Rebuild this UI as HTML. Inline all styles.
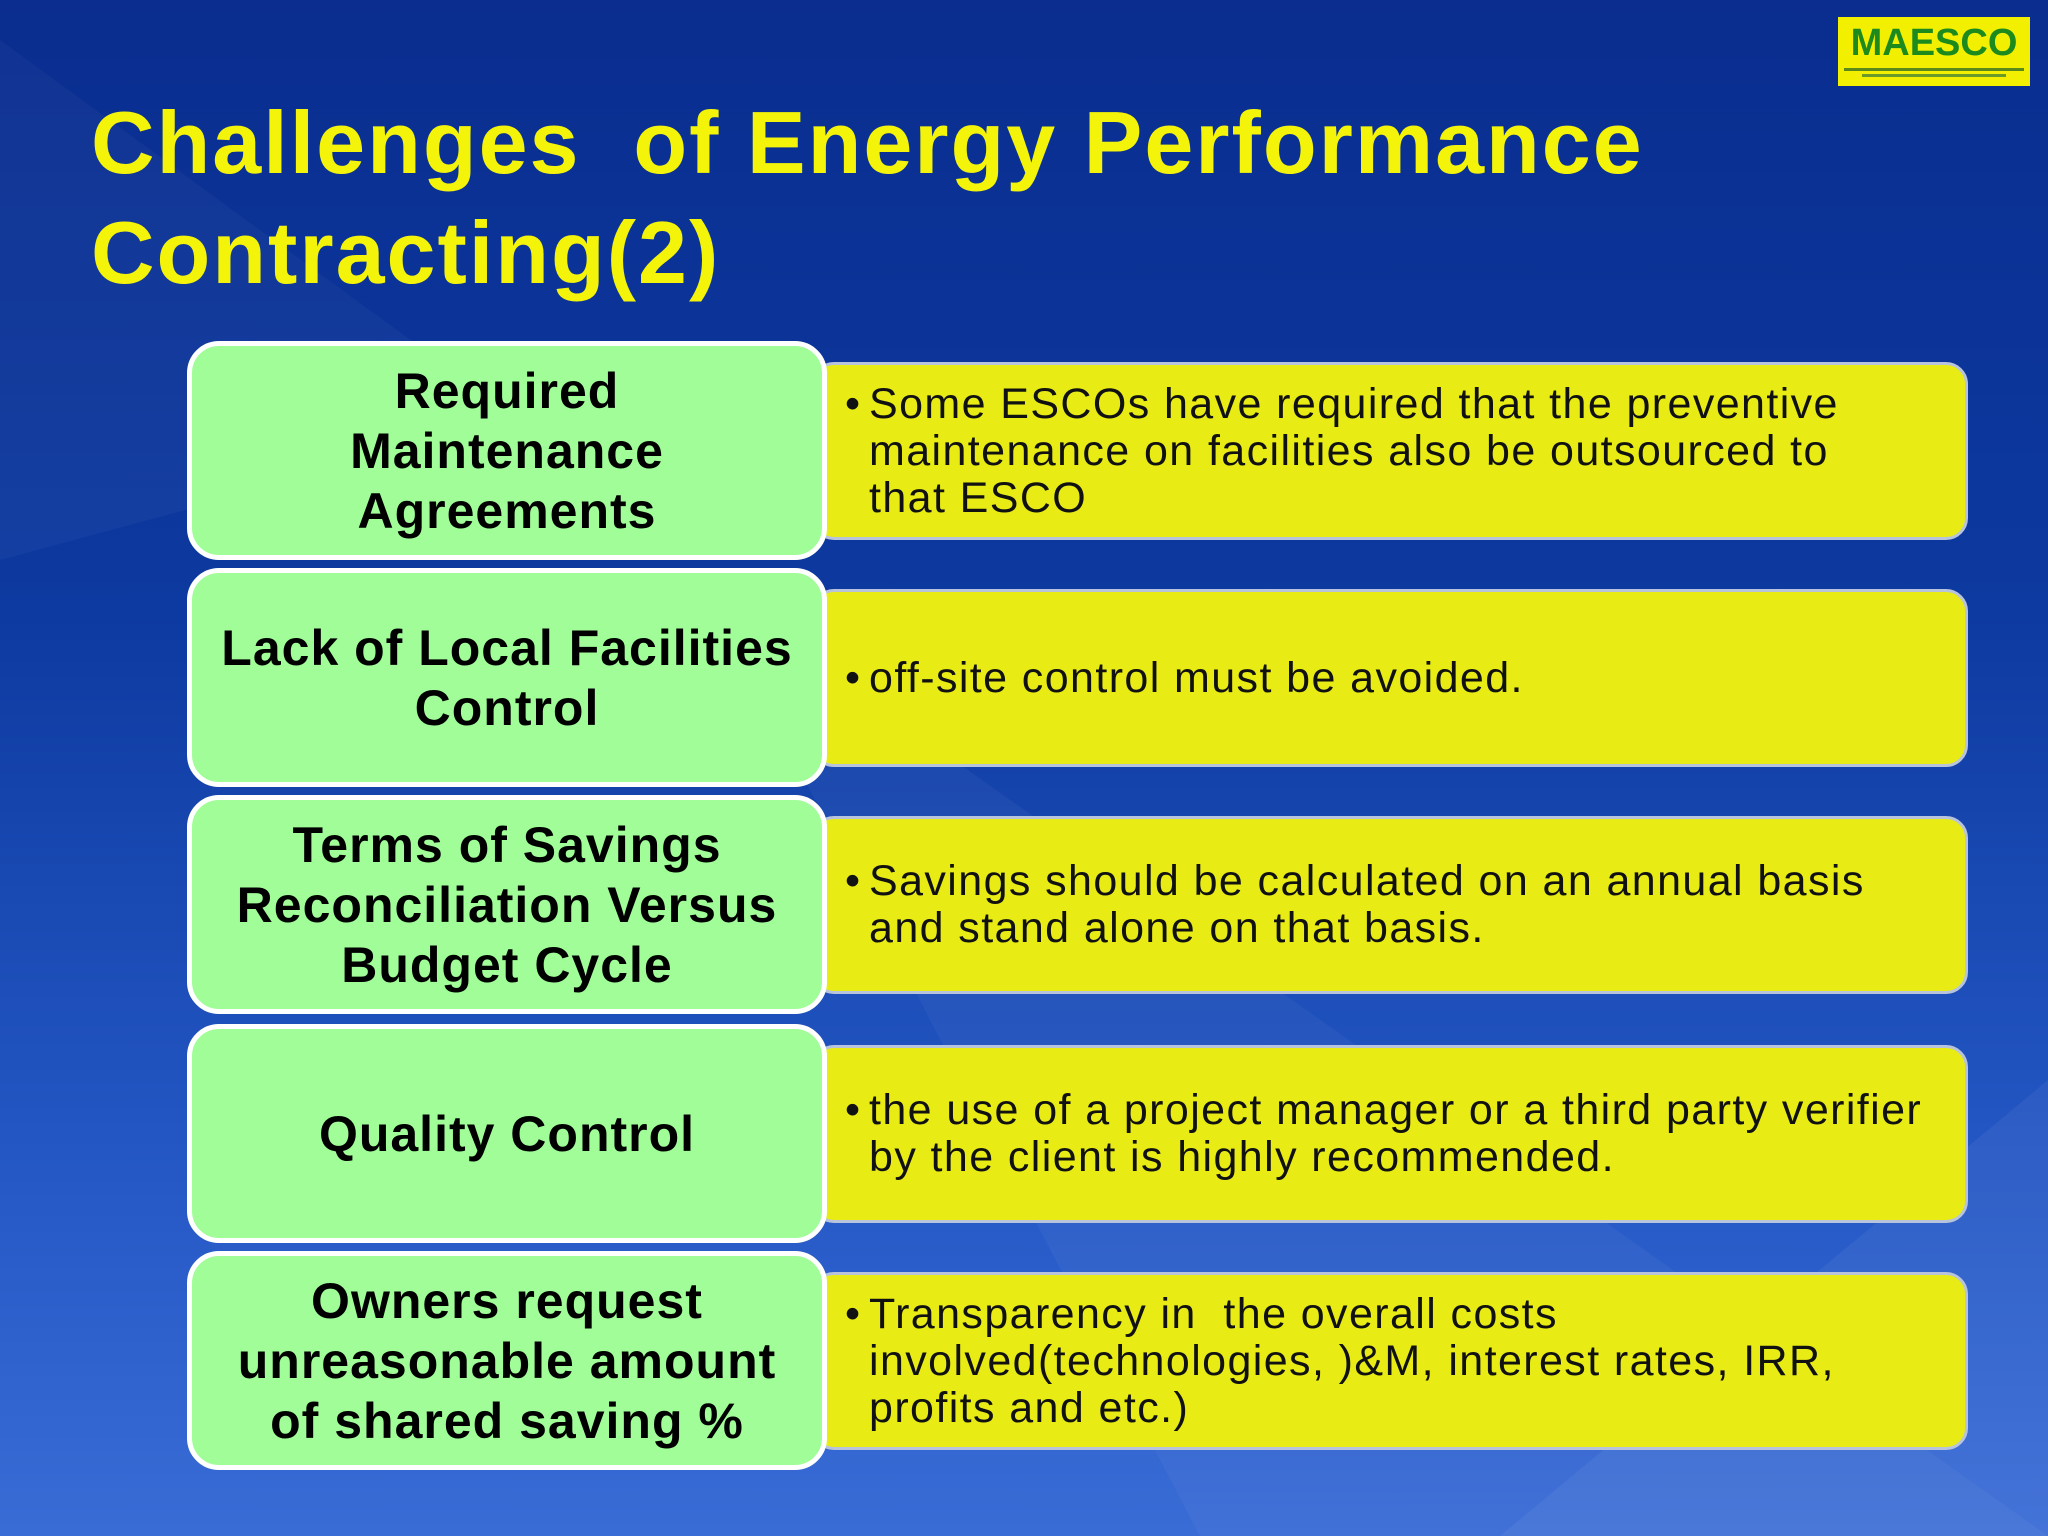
<!DOCTYPE html>
<html><head><meta charset="utf-8"><style>
body{margin:0;width:2048px;height:1536px;overflow:hidden;font-family:"Liberation Sans",sans-serif;}
#slide{position:relative;width:2048px;height:1536px;background:linear-gradient(180deg,#0a2d8f 0%,#0d3aa0 40%,#2457c4 75%,#3a6cd6 100%);overflow:hidden}
.title{position:absolute;left:91px;top:88px;color:#f4f40a;font-weight:bold;font-size:88px;line-height:110px;letter-spacing:2px}
.green{position:absolute;left:187px;width:630px;height:209px;background:#a0fd98;border:5px solid #fff;border-radius:32px;box-sizing:content-box;display:flex;align-items:center;justify-content:center;text-align:center;font-weight:bold;font-size:50px;line-height:60px;color:#000;z-index:2;letter-spacing:1px}
.yellow{position:absolute;left:812px;width:1150px;height:172px;background:#e8ec14;border:3px solid #b8c4dc;border-radius:22px;display:flex;align-items:center;font-size:43px;line-height:47px;color:#111;z-index:1;white-space:nowrap}
.yellow span{display:block;position:relative;margin-left:54px;letter-spacing:1.4px}
.yellow span b{position:absolute;left:-24px;top:0;font-weight:normal}
#logo{position:absolute;left:1838px;top:17px;width:192px;height:69px;background:#f2f000;text-align:center;overflow:hidden}
</style></head><body>
<div id="slide">
<svg width="2048" height="1536" style="position:absolute;left:0;top:0">
<polygon points="0,40 0,560 520,420" fill="#ffffff" opacity="0.03"/>
<polygon points="700,580 2048,1536 1200,1536" fill="#ffffff" opacity="0.04"/>
<polygon points="2048,1080 1500,1536 2048,1536" fill="#ffffff" opacity="0.05"/>
</svg>
<div id="logo">
<div style="color:#1d8a1d;font-weight:bold;font-size:38px;line-height:46px;margin-top:3px">MAESCO</div>
<div style="height:3px;background:#5a8a1a;margin:2px 6px"></div>
<div style="height:3px;background:#6a9a2a;margin:3px 24px"></div>
</div>
<div class="title">Challenges&nbsp; of Energy Performance<br>Contracting(2)</div>

<div class="green" style="top:341px">Required<br>Maintenance<br>Agreements</div>
<div class="yellow" style="top:362px"><span><b>•</b>Some ESCOs have required that the preventive<br>maintenance on facilities also be outsourced to<br>that ESCO</span></div>

<div class="green" style="top:568px">Lack of Local Facilities<br>Control</div>
<div class="yellow" style="top:589px"><span><b>•</b>off-site control must be avoided.</span></div>

<div class="green" style="top:795px">Terms of Savings<br>Reconciliation Versus<br>Budget Cycle</div>
<div class="yellow" style="top:816px"><span><b>•</b>Savings should be calculated on an annual basis<br>and stand alone on that basis.</span></div>

<div class="green" style="top:1024px">Quality Control</div>
<div class="yellow" style="top:1045px"><span><b>•</b>the use of a project manager or a third party verifier<br>by the client is highly recommended.</span></div>

<div class="green" style="top:1251px">Owners request<br>unreasonable amount<br>of shared saving %</div>
<div class="yellow" style="top:1272px"><span><b>•</b>Transparency in&nbsp; the overall costs<br>involved(technologies, )&amp;M, interest rates, IRR,<br>profits and etc.)</span></div>
</div>
</body></html>
